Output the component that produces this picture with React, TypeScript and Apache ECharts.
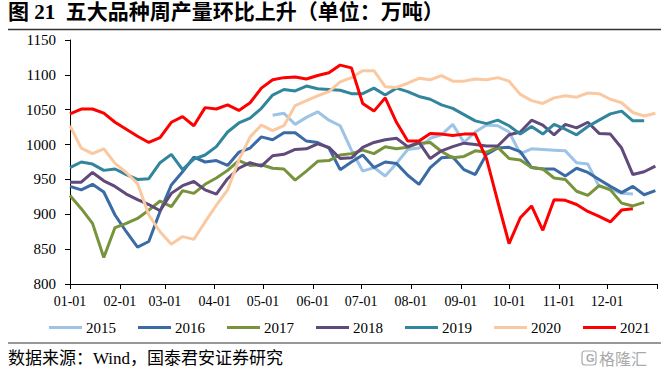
import React, { useEffect, useRef } from "react";
import * as echarts from "echarts";

const years = ["2015", "2016", "2017", "2018", "2019", "2020", "2021"];
const colors = ["#9DC3E6", "#3B6BA5", "#77933C", "#604A7B", "#31859C", "#FAC9A2", "#FF0000"];

// weekly production (万吨); first value corresponds to week index given in startWeek
const startWeek = [18, 0, 0, 0, 0, 0, 0];
const v2015 = [1042, 1045, 1029, 1039, 1047, 1035, 1027, 992, 962, 967, 955, 973, 993, 995, 1009, 1014, 1029, 1003, 1018, 1028, 1027, 1018, 987, 994, 993, 992, 991, 974, 972, 940, 936, 930, 929];
const v2016 = [940, 935, 943, 932, 899, 875, 853, 861, 904, 942, 961, 982, 975, 977, 970, 989, 995, 1011, 1007, 1017, 1017, 1005, 1003, 995, 964, 975, 985, 967, 975, 973, 956, 943, 967, 981, 982, 964, 957, 986, 995, 996, 990, 967, 965, 965, 955, 966, 960, 950, 940, 931, 940, 928, 934];
const v2017 = [927, 908, 887, 838, 881, 887, 894, 906, 919, 911, 934, 930, 943, 952, 963, 977, 970, 971, 966, 965, 949, 962, 976, 977, 985, 987, 992, 987, 997, 994, 996, 1002, 1003, 990, 981, 983, 991, 989, 996, 980, 978, 967, 965, 952, 950, 933, 927, 941, 935, 916, 912, 917];
const v2018 = [946, 946, 960, 948, 940, 929, 921, 914, 905, 930, 941, 947, 935, 929, 951, 966, 974, 969, 984, 986, 993, 994, 1001, 996, 980, 981, 996, 1003, 1007, 1009, 997, 1003, 980, 991, 997, 1002, 1000, 998, 998, 1014, 1018, 1035, 1028, 1014, 1029, 1024, 1032, 1016, 1015, 995, 957, 961, 969];
const v2019 = [967, 975, 972, 963, 965, 957, 950, 951, 974, 986, 964, 979, 985, 997, 1018, 1031, 1038, 1052, 1071, 1079, 1077, 1084, 1080, 1079, 1078, 1073, 1073, 1081, 1071, 1081, 1076, 1069, 1065, 1057, 1052, 1043, 1034, 1030, 1035, 1027, 1015, 1026, 1015, 1029, 1022, 1014, 1026, 1035, 1044, 1048, 1034, 1034];
const v2020 = [1027, 995, 987, 994, 973, 960, 944, 899, 875, 857, 868, 864, 889, 913, 935, 978, 1011, 1028, 1020, 1027, 1056, 1063, 1070, 1076, 1090, 1096, 1106, 1106, 1083, 1082, 1088, 1095, 1093, 1099, 1091, 1091, 1094, 1093, 1096, 1091, 1072, 1063, 1059, 1067, 1070, 1068, 1074, 1073, 1065, 1060, 1046, 1041, 1045];
const v2021 = [1044, 1051, 1051, 1045, 1032, 1022, 1012, 1003, 1010, 1032, 1040, 1027, 1053, 1051, 1057, 1049, 1060, 1081, 1093, 1096, 1097, 1094, 1099, 1103, 1114, 1110, 1059, 1048, 1067, 1032, 1005, 1005, 1016, 1015, 1013, 1015, 1015, 980, 918, 858, 895, 912, 877, 921, 920, 914, 904, 897, 889, 906, 908];
const seriesValues = [v2015, v2016, v2017, v2018, v2019, v2020, v2021];

// month starts (day of year) and their labels
const monthStartDays = [0, 31, 59, 90, 120, 151, 181, 212, 243, 273, 304, 334];
const monthLabels = ["01-01", "02-01", "03-01", "04-01", "05-01", "06-01", "07-01", "08-01", "09-01", "10-01", "11-01", "12-01"];
const yTicks = { min: 800, max: 1150, interval: 50 };

const serif = "'Liberation Serif', 'Times New Roman', 'Noto Sans CJK SC', serif";

export default function App() {
  const ref = useRef<HTMLDivElement>(null);
  useEffect(() => {
    document.body.style.margin = "0";
    const chart = echarts.init(ref.current!, null, { renderer: "svg" });
    const series = years.map((y, k) => ({
      name: y,
      type: "line",
      showSymbol: false,
      symbol: "none",
      lineStyle: { width: 3, color: colors[k] },
      itemStyle: { color: colors[k] },
      data: seriesValues[k].map((v, i) => [(startWeek[k] + i) * 7, v]),
      z: k + 2,
    }));
    chart.setOption({
      animation: false,
      grid: { left: 70, right: 14, top: 40, bottom: 91 },
      xAxis: {
        type: "value",
        min: 0,
        max: 365,
        axisLine: { show: true, lineStyle: { color: "#000", width: 1 } },
        axisTick: { show: true, length: 5, lineStyle: { color: "#000" }, customValues: [...monthStartDays, 365] },
        splitLine: { show: false },
        axisLabel: {
          customValues: monthStartDays,
          formatter: (v: number) => monthLabels[monthStartDays.indexOf(Math.round(v))] ?? "",
          color: "#000",
          fontFamily: serif,
          fontSize: 14,
          margin: 10,
        },
      },
      yAxis: {
        type: "value",
        min: yTicks.min,
        max: yTicks.max,
        interval: yTicks.interval,
        axisLine: { show: true, lineStyle: { color: "#000", width: 1 } },
        axisTick: { show: true, length: 5, lineStyle: { color: "#000" } },
        splitLine: { show: false },
        axisLabel: { color: "#000", fontFamily: serif, fontSize: 15, margin: 14, formatter: (v: number) => String(v) },
      },
      legend: {
        left: 44,
        top: 315,
        icon: "rect",
        itemWidth: 33,
        itemHeight: 3,
        itemGap: 22,
        textStyle: { color: "#000", fontFamily: serif, fontSize: 15, padding: [0, 0, 0, -1] },
        data: years,
      },
      graphic: [
        {
          type: "text",
          left: 8,
          top: 1,
          style: {
            text: "图 21  五大品种周产量环比上升（单位：万吨）",
            font: `bold 21px ${serif}`,
            fill: "#000",
          },
        },
        { type: "line", shape: { x1: 8, y1: 29.5, x2: 661, y2: 29.5 }, style: { stroke: "#333", lineWidth: 1.5 } },
        { type: "line", shape: { x1: 8, y1: 343, x2: 661, y2: 343 }, style: { stroke: "#333", lineWidth: 1 } },
        {
          type: "text",
          left: 8,
          top: 350,
          style: { text: "数据来源：Wind，国泰君安证券研究", font: `17px ${serif}`, fill: "#000" },
        },
        {
          type: "rect",
          shape: { x: 582, y: 351, width: 14, height: 14, r: 3 },
          style: { fill: "none", stroke: "#aaa", lineWidth: 1.2 },
        },
        {
          type: "text",
          left: 586,
          top: 352,
          style: { text: "G", font: `bold 11px sans-serif`, fill: "#aaa" },
        },
        {
          type: "text",
          left: 599,
          top: 350,
          style: { text: "格隆汇", font: `16px 'Noto Sans CJK SC', sans-serif`, fill: "#aaa" },
        },
      ],
      series,
    });
    return () => chart.dispose();
  }, []);
  return <div ref={ref} style={{ width: 671, height: 375 }} />;
}
